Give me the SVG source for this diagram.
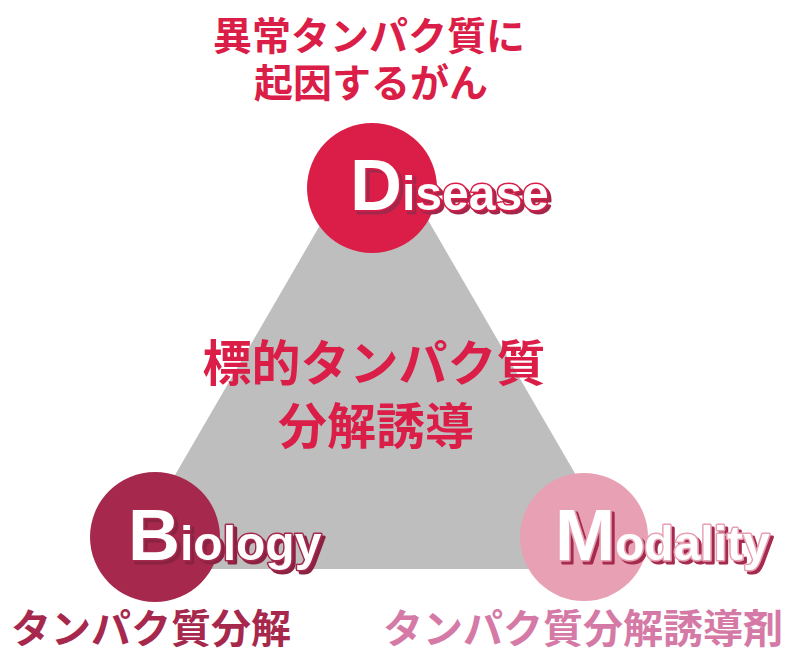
<svg xmlns="http://www.w3.org/2000/svg" width="790" height="653" viewBox="0 0 790 653">
  <style>
    .jp { font-family: "Noto Sans CJK JP", "Noto Sans", sans-serif; font-weight: 700; text-anchor: middle; }
    .lbl { font-family: "Liberation Sans", Arial, sans-serif; font-weight: 700; fill: #ffffff; stroke-width: 3; paint-order: stroke; stroke-linejoin: round; }
    .big { font-size: 72px; }
    .small { font-size: 48px; }
  </style>
  <defs>
    <filter id="shD" x="-10%" y="-20%" width="120%" height="150%">
      <feOffset in="SourceAlpha" dx="3" dy="3" result="o"/>
      <feFlood flood-color="#A3284C"/>
      <feComposite in2="o" operator="in" result="s"/>
      <feMerge><feMergeNode in="s"/><feMergeNode in="SourceGraphic"/></feMerge>
    </filter>
    <filter id="shB" x="-10%" y="-20%" width="120%" height="150%">
      <feOffset in="SourceAlpha" dx="3" dy="3" result="o"/>
      <feFlood flood-color="#8C2242"/>
      <feComposite in2="o" operator="in" result="s"/>
      <feMerge><feMergeNode in="s"/><feMergeNode in="SourceGraphic"/></feMerge>
    </filter>
    <filter id="shM" x="-10%" y="-20%" width="120%" height="150%">
      <feOffset in="SourceAlpha" dx="3" dy="3" result="o"/>
      <feFlood flood-color="#A6294D"/>
      <feComposite in2="o" operator="in" result="s"/>
      <feMerge><feMergeNode in="s"/><feMergeNode in="SourceGraphic"/></feMerge>
    </filter>
  </defs>
  <rect width="790" height="653" fill="#ffffff"/>
  <g id="connectors">
    <polygon points="375.5,129.6 120.5,569 630.5,569" fill="#BEBEBE"/>
  </g>
  <g id="center-label">
    <text class="jp" x="374" y="381" font-size="49" fill="#DA1E48">標的タンパク質</text>
    <text class="jp" x="376" y="444" font-size="49" fill="#DA1E48">分解誘導</text>
  </g>
  <g id="disease">
    <circle cx="372" cy="188" r="65" fill="#DA1E48"/>
    <text class="lbl" x="350" y="210" stroke="#DA1E48" filter="url(#shD)"><tspan class="big">D</tspan><tspan class="small">isease</tspan></text>
    <text class="jp" x="369" y="50" font-size="39" fill="#DA1E48">異常タンパク質に</text>
    <text class="jp" x="371" y="97" font-size="39" fill="#DA1E48">起因するがん</text>
  </g>
  <g id="biology">
    <circle cx="155" cy="537" r="65" fill="#A6294D"/>
    <text class="lbl" x="128" y="560" stroke="#A6294D" filter="url(#shB)"><tspan class="big">B</tspan><tspan class="small">iology</tspan></text>
    <text class="jp" x="151" y="643" font-size="40" fill="#A6294D">タンパク質分解</text>
  </g>
  <g id="modality">
    <circle cx="584" cy="537" r="64" fill="#E8A0B4"/>
    <text class="lbl" x="555" y="560" stroke="#E8A0B4" filter="url(#shM)"><tspan class="big">M</tspan><tspan class="small">odality</tspan></text>
    <text class="jp" x="583" y="643" font-size="40" fill="#D57AA6">タンパク質分解誘導剤</text>
  </g>
</svg>
